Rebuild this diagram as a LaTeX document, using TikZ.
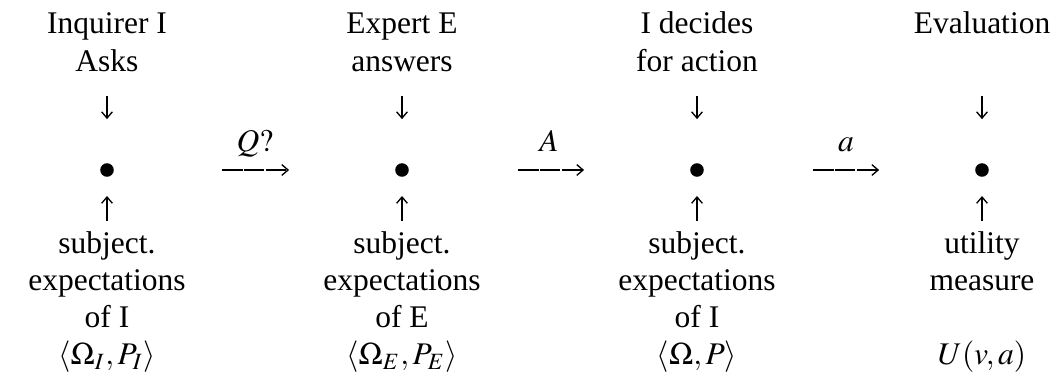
\documentclass[tikz,border=0pt]{standalone}
\usepackage{mathptmx}
\usepackage{fontspec}
\setmainfont{Liberation Serif}
\usetikzlibrary{arrows.meta}
\begin{document}
\begin{tikzpicture}[x=0.3175pt,y=-0.3175pt,
  lbl/.style={anchor=base,inner sep=0pt,align=center},
  dotnode/.style={circle,fill=black,inner sep=0pt,minimum size=4.3pt},
  conn/.style={line width=0.42pt,-{Straight Barb[length=2pt,width=3.4pt]}},
  hconn/.style={conn,dash pattern=on 6.6pt off 0.35pt}]
\useasboundingbox (0,0) rectangle (1052,380);
% column 1
\node[lbl] (t1a) at (107,34) {Inquirer I};
\node[lbl] (t1b) at (107,72) {Asks};
\node[dotnode] (p1) at (107,170) {};
\node[lbl] (b1a) at (107,254) {subject.};
\node[lbl] (b1b) at (107,291) {expectations};
\node[lbl] (b1c) at (107,328) {of I};
\node[lbl] (b1d) at (107,365) {$\langle\Omega_I,P_I\rangle$};
% column 2
\node[lbl] (t2a) at (402,34) {Expert E};
\node[lbl] (t2b) at (402,72) {answers};
\node[dotnode] (p2) at (402,170) {};
\node[lbl] (b2a) at (402,254) {subject.};
\node[lbl] (b2b) at (402,291) {expectations};
\node[lbl] (b2c) at (402,328) {of E};
\node[lbl] (b2d) at (402,365) {$\langle\Omega_E,P_E\rangle$};
% column 3
\node[lbl] (t3a) at (697,34) {I decides};
\node[lbl] (t3b) at (697,72) {for action};
\node[dotnode] (p3) at (697,170) {};
\node[lbl] (b3a) at (697,254) {subject.};
\node[lbl] (b3b) at (697,291) {expectations};
\node[lbl] (b3c) at (697,328) {of I};
\node[lbl] (b3d) at (697,365) {$\langle\Omega,P\rangle$};
% column 4
\node[lbl] (t4a) at (982,34) {Evaluation};
\node[dotnode] (p4) at (982,170) {};
\node[lbl] (b4a) at (982,254) {utility};
\node[lbl] (b4b) at (982,291) {measure};
\node[lbl] (b4d) at (982,365) {$U(v,a)$};
% vertical connectors
\draw[conn,shorten <=7.3pt,shorten >=13.8pt] (t1b.south) -- (p1.north);
\draw[conn,shorten <=7.3pt,shorten >=13.8pt] (t2b.south) -- (p2.north);
\draw[conn,shorten <=7.3pt,shorten >=13.8pt] (t3b.south) -- (p3.north);
\draw[conn,shorten <=19.4pt,shorten >=13.8pt] (t4a.south) -- (p4.north);
\draw[conn,shorten <=3.3pt,shorten >=5.9pt] (b1a.north) -- (p1.south);
\draw[conn,shorten <=3.3pt,shorten >=5.9pt] (b2a.north) -- (p2.south);
\draw[conn,shorten <=3.3pt,shorten >=5.9pt] (b3a.north) -- (p3.south);
\draw[conn,shorten <=3.3pt,shorten >=5.9pt] (b4a.north) -- (p4.south);
% horizontal connectors and labels
\draw[hconn,shorten <=34.1pt,shorten >=33.5pt] (p1.east) -- (p2.west);
\draw[hconn,shorten <=34.4pt,shorten >=33.5pt] (p2.east) -- (p3.west);
\draw[hconn,shorten <=34.4pt,shorten >=30.3pt] (p3.east) -- (p4.west);
\node[lbl] (l1) at (255,152) {$Q?$};
\node[lbl] (l2) at (549,152) {$A$};
\node[lbl] (l3) at (846,152) {$a$};
\end{tikzpicture}
\end{document}
